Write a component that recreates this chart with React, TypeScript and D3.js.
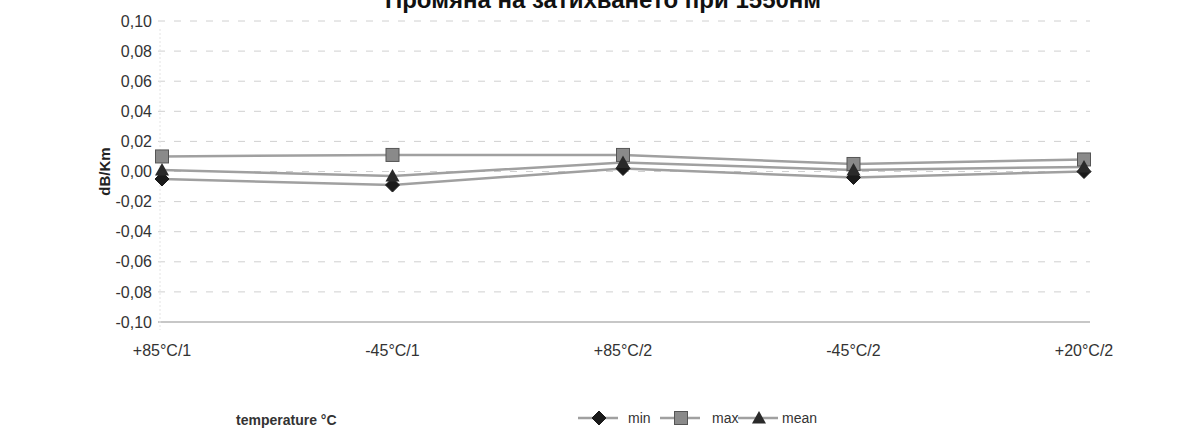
import React from "react";
import * as d3 from "d3";

const categories = ["+85°C/1", "-45°C/1", "+85°C/2", "-45°C/2", "+20°C/2"];
const minValues = [-0.005, -0.009, 0.002, -0.004, 0.0];
const maxValues = [0.01, 0.011, 0.011, 0.005, 0.008];
const meanValues = [0.001, -0.003, 0.006, 0.001, 0.003];
const yTicks = [0.1, 0.08, 0.06, 0.04, 0.02, 0, -0.02, -0.04, -0.06, -0.08, -0.1];
const title = "Промяна на затихването при 1550нм";
const yTitle = "dB/Km";
const xTitle = "temperature °C";
const seriesNames = ["min", "max", "mean"];

const W = 1204;
const H = 439;

const fmt = (v: number) => d3.format(".2f")(v).replace(".", ",").replace("−", "-");

function Marker({ kind, x, y }: { kind: string; x: number; y: number }) {
  if (kind === "min") {
    const s = 7;
    return <path d={`M${x},${y - s}L${x + s},${y}L${x},${y + s}L${x - s},${y}Z`} fill="#1a1a1a" stroke="#1a1a1a" />;
  }
  if (kind === "max") {
    const s = 6.5;
    return <rect x={x - s} y={y - s} width={2 * s} height={2 * s} fill="#8a8a8a" stroke="#555" strokeWidth={1} />;
  }
  const s = 7;
  return <path d={`M${x},${y - s}L${x + s},${y + s * 0.8}L${x - s},${y + s * 0.8}Z`} fill="#2a2a2a" />;
}

export default function App() {
  const x = d3.scalePoint<string>().domain(categories).range([162, 1084]);
  const y = d3.scaleLinear().domain([-0.1, 0.1]).range([322, 21]);
  const series = [
    { name: "min", values: minValues },
    { name: "max", values: maxValues },
    { name: "mean", values: meanValues },
  ];
  const line = d3
    .line<number>()
    .x((_, i) => x(categories[i]) as number)
    .y((d) => y(d));
  const font = "'Liberation Sans', Arial, sans-serif";

  const legendItems = [
    { name: seriesNames[0], lx: 578, tx: 628 },
    { name: seriesNames[1], lx: 660, tx: 712 },
    { name: seriesNames[2], lx: 738, tx: 782 },
  ];

  return (
    <svg width={W} height={H} style={{ position: "absolute", left: 0, top: 0, background: "#fff" }} fontFamily={font}>
      <text x={603} y={8} textAnchor="middle" fontSize={24} fontWeight="bold" fill="#111">
        {title}
      </text>
      {yTicks.map((t) => (
        <g key={t}>
          <line
            x1={158}
            x2={1090}
            y1={y(t)}
            y2={y(t)}
            stroke={t === -0.1 ? "#b5b5b5" : "#d0d0d0"}
            strokeWidth={t === -0.1 ? 1.5 : 1}
            strokeDasharray={t === -0.1 ? undefined : "7 9"}
          />
          <text x={152} y={y(t)} dy="0.35em" textAnchor="end" fontSize={16} fill="#333">
            {fmt(t)}
          </text>
        </g>
      ))}
      <line x1={160} x2={160} y1={y(0.1) + 8} y2={y(-0.1) + 8} stroke="#e4e4e4" strokeDasharray="2 2" />
      <text
        transform={`translate(110,${y(0)}) rotate(-90)`}
        textAnchor="middle"
        fontSize={15}
        fontWeight="bold"
        fill="#222"
      >
        {yTitle}
      </text>
      {categories.map((c) => (
        <text key={c} x={x(c)} y={356} textAnchor="middle" fontSize={16} fill="#333">
          {c}
        </text>
      ))}
      {series.map((s) => (
        <path key={s.name} d={line(s.values) || ""} fill="none" stroke="#a0a0a0" strokeWidth={2.5} />
      ))}
      {series.map((s) =>
        s.values.map((v, i) => <Marker key={s.name + i} kind={s.name} x={x(categories[i]) as number} y={y(v)} />)
      )}
      <text x={236} y={425} fontSize={14} fontWeight="bold" fill="#333">
        {xTitle}
      </text>
      {legendItems.map((it) => (
        <g key={it.name}>
          <line x1={it.lx} x2={it.lx + 40} y1={418} y2={418} stroke="#a0a0a0" strokeWidth={2.5} />
          <Marker kind={it.name} x={it.lx + 21} y={418} />
          <text x={it.tx} y={423} fontSize={14} fill="#333">
            {it.name}
          </text>
        </g>
      ))}
    </svg>
  );
}
